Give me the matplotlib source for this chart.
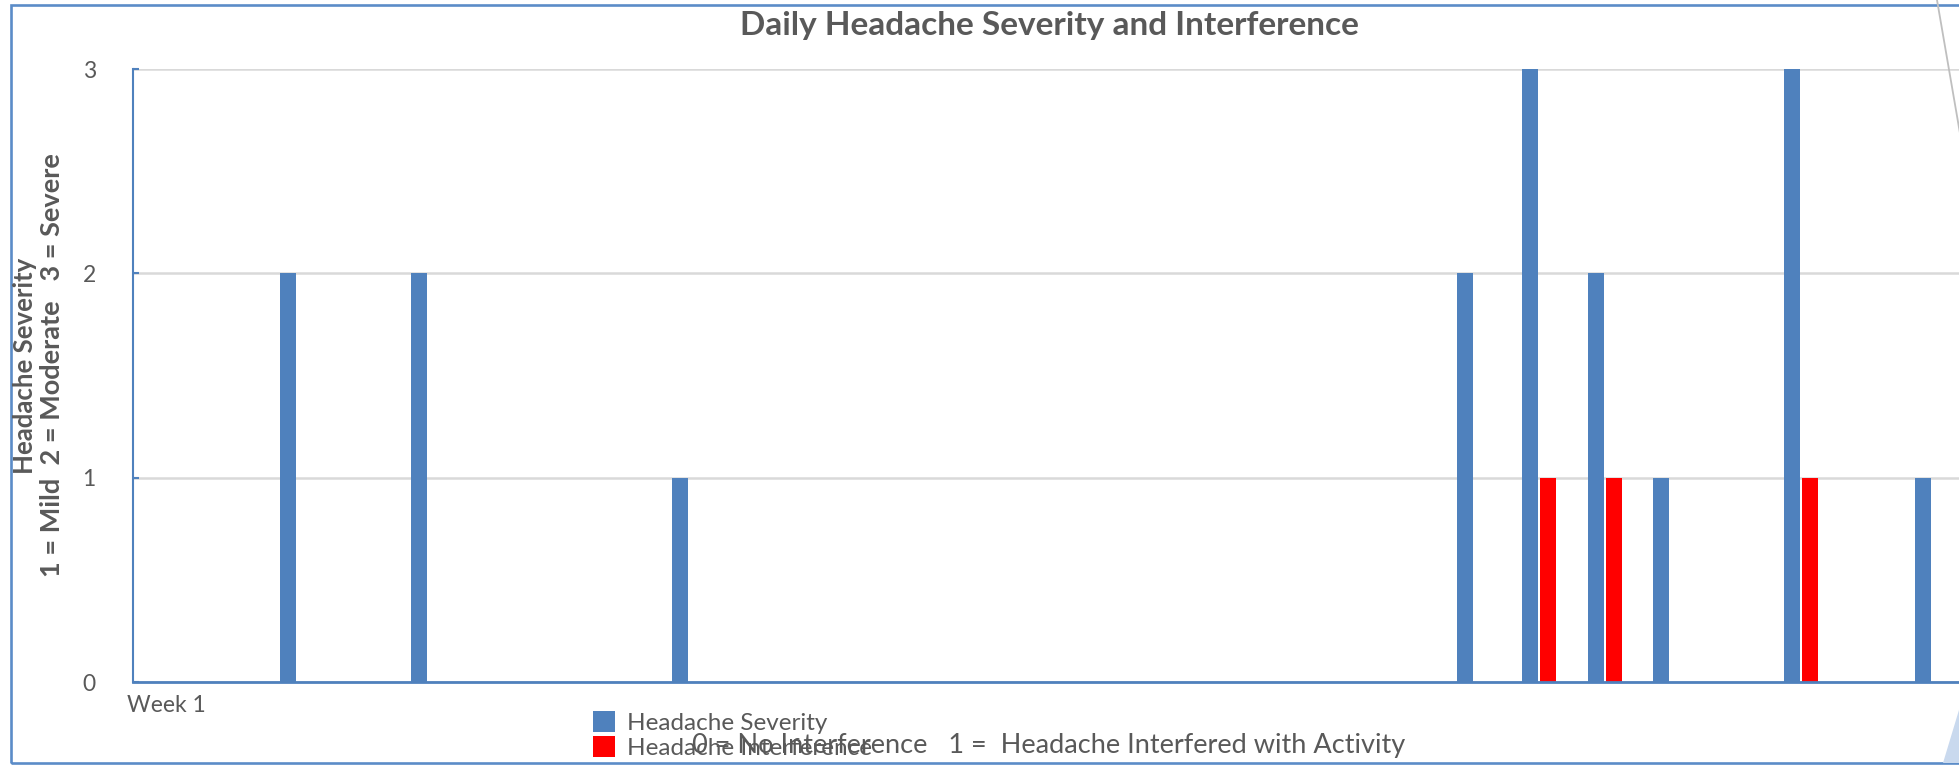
import numpy as np
import matplotlib
matplotlib.use("Agg")
import matplotlib.pyplot as plt
from matplotlib.patches import Rectangle, Polygon
from matplotlib.lines import Line2D

# ---- data ----
days = list(range(28))
day_labels = ["Week 1"] + [""] * 27
severity = [0, 0, 2, 0, 2, 0, 0, 0, 1, 0, 0, 0, 0, 0,
            0, 0, 0, 0, 0, 0, 2, 3, 2, 1, 0, 3, 0, 1]
interference = [0, 0, 0, 0, 0, 0, 0, 0, 0, 0, 0, 0, 0, 0,
                0, 0, 0, 0, 0, 0, 0, 1, 1, 0, 0, 1, 0, 0]
series_names = ["Headache Severity", "Headache Interference"]
y_ticks = [0, 1, 2, 3]

title = "Daily Headache Severity and Interference"
ylabel_1 = "Headache Severity"
ylabel_2 = "1 = Mild  2 = Moderate   3 = Severe"
bottom_note = "0 = No Interference   1 =  Headache Interfered with Activity"

# ---- style ----
W, H = 1959, 765
DPI = 100
BLUE = "#4F81BD"
RED = "#FF0000"
GRAY_TXT = "#595959"
GRID = "#D9D9D9"
BORDER = "#5B8CC8"
FONT = "Lato"

plt.rcParams["font.family"] = [FONT, "DejaVu Sans"]

fig = plt.figure(figsize=(W / DPI, H / DPI), dpi=DPI)


def fx(px):
    return px / W


def fy(py):
    return (H - py) / H


# chart outer border
fig.patches.append(Rectangle((fx(10.7), fy(763)), fx(2200) - fx(10.7), fy(4.7) - fy(763),
                             transform=fig.transFigure, fill=False,
                             edgecolor=BORDER, linewidth=1.9, zorder=0))

# axes (extends past the right edge, as in the reference)
left_px, right_px, top_px, bot_px = 133.3, 133.3 + 28 * 65.4, 69.0, 682.3
ax = fig.add_axes([fx(left_px), fy(bot_px), fx(right_px) - fx(left_px), fy(top_px) - fy(bot_px)])

x = np.arange(len(days))
bw = 0.245
off = 0.138
ax.bar(x - off, severity, width=bw, color=BLUE, label=series_names[0], zorder=3)
ax.bar(x + off, interference, width=bw, color=RED, label=series_names[1], zorder=3)

ax.set_xlim(-0.5, len(days) - 0.5)
ax.set_ylim(0, 3)
ax.set_yticks(y_ticks)
ax.set_yticklabels([str(v) for v in y_ticks])
ax.set_xticks(x)
ax.set_xticklabels(day_labels)

ax.yaxis.grid(True, color=GRID, linewidth=1.8, zorder=0)
ax.set_axisbelow(True)
for s in ["top", "right"]:
    ax.spines[s].set_visible(False)
ax.spines["left"].set_color(BLUE)
ax.spines["left"].set_linewidth(1.5)
ax.spines["bottom"].set_color(BLUE)
ax.spines["bottom"].set_linewidth(2.0)
ax.spines["bottom"].set_zorder(4)

ax.tick_params(axis="y", direction="in", length=4, width=1.5, color=BLUE,
               labelsize=16.5, labelcolor=GRAY_TXT, pad=27)
ax.tick_params(axis="x", length=0, labelsize=16.5, labelcolor=GRAY_TXT, pad=9)

# title
fig.text(fx(1049), fy(26), title, ha="center", va="center",
         fontsize=24, fontweight="bold", color=GRAY_TXT)

# y axis title (two lines)
fig.text(fx(25), fy(366), ylabel_1, rotation=90, ha="center", va="center",
         fontsize=18.5, fontweight="bold", color=GRAY_TXT)
fig.text(fx(52), fy(365), ylabel_2, rotation=90, ha="center", va="center",
         fontsize=19.5, fontweight="bold", color=GRAY_TXT)

# legend
leg = ax.legend(loc="upper left", bbox_to_anchor=(fx(593), fy(711)),
                bbox_transform=fig.transFigure, frameon=False, fontsize=17.5,
                handlelength=0.9, handleheight=0.95, handletextpad=0.5,
                labelspacing=0.08, borderpad=0, borderaxespad=0)
for t in leg.get_texts():
    t.set_color(GRAY_TXT)

# overlapping note text
fig.text(fx(1048.5), fy(746), bottom_note, ha="center", va="center",
         fontsize=19.5, color=GRAY_TXT)

# stray decorations at the right edge
fig.lines.append(Line2D([fx(1937), fx(1962)], [fy(0), fy(145)], transform=fig.transFigure,
                        color="#BFBFBF", linewidth=1.3))
fig.patches.append(Polygon([(fx(1943), fy(763)), (fx(1962), fy(700)), (fx(1962), fy(763))],
                           closed=True, transform=fig.transFigure,
                           facecolor="#C9D9EE", edgecolor="none"))

fig.savefig("out.png", dpi=DPI)
